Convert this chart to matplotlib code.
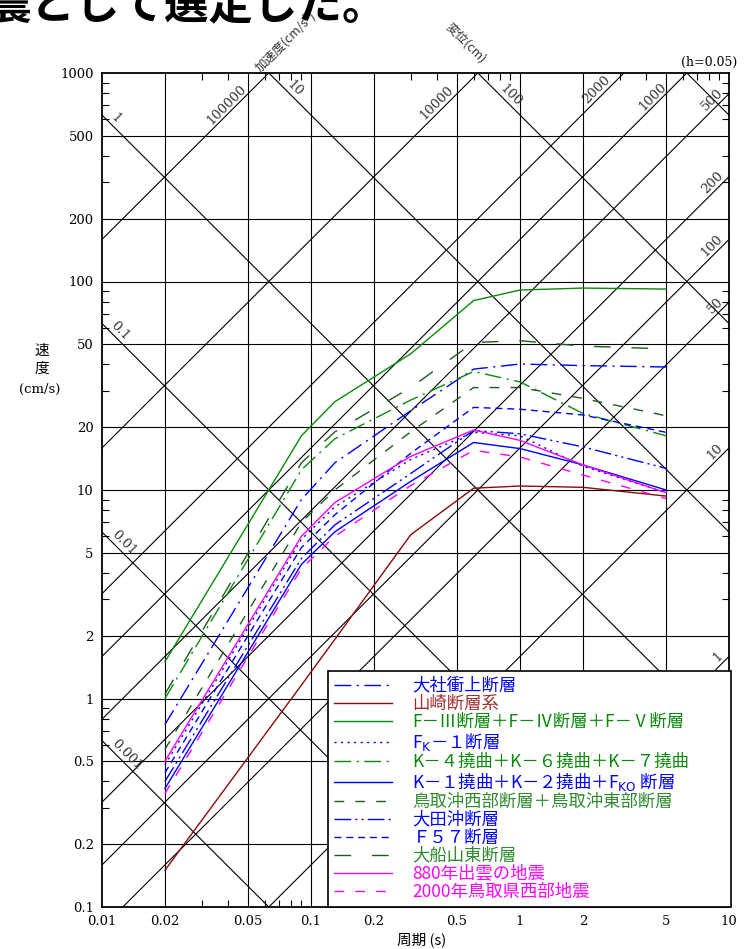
import numpy as np
import matplotlib
matplotlib.use("Agg")
import matplotlib.pyplot as plt
from matplotlib.ticker import FixedLocator, NullFormatter

plt.rcParams['font.family'] = ['DejaVu Serif', 'Noto Sans CJK JP']
plt.rcParams['mathtext.default'] = 'regular'
JP = ['Noto Sans CJK JP', 'DejaVu Sans']

W, H = 747, 949

# 周期 (s) -- Noda spectrum control points
periods = [0.02, 0.09, 0.13, 0.3, 0.6, 1.0, 2.0, 5.0]

# 速度 (cm/s)
taisha = [0.75, 9.0, 13.5, 24.0, 38.0, 40.2, 39.5, 38.9]
yamasaki = [0.15, 1.16, 1.92, 6.1, 10.2, 10.45, 10.3, 9.35]
f3f4f5 = [1.5, 18.2, 26.5, 45.0, 81.0, 91.0, 93.0, 92.0]
fk1 = [0.48, 5.8, 8.3, 14.0, 18.9, 18.2, 13.0, 9.7]
k4k6k7 = [1.0, 12.5, 17.6, 27.0, 37.0, 33.0, 23.3, 18.2]
k1k2fko = [0.37, 4.4, 6.3, 11.0, 16.9, 15.8, 13.2, 10.0]
tottori_oki = [0.57, 7.0, 10.0, 19.0, 31.0, 31.0, 27.5, 22.7]
ota_oki = [0.40, 4.7, 6.8, 12.0, 19.3, 18.6, 16.1, 12.7]
f57 = [0.44, 5.3, 7.6, 15.0, 24.9, 24.4, 22.9, 18.9]
daisenzan = [1.05, 13.5, 19.0, 31.0, 51.0, 52.0, 49.0, 47.5]
eq880 = [0.50, 6.0, 8.7, 14.5, 19.4, 17.3, 13.2, 9.7]
eq2000 = [0.35, 4.2, 6.0, 10.5, 15.5, 14.4, 11.8, 9.1]

labels = [
    "大社衝上断層",
    "山崎断層系",
    "F－Ⅲ断層＋F－Ⅳ断層＋F－Ⅴ断層",
    "F$_\\mathrm{K}$－１断層",
    "K－４撓曲＋K－６撓曲＋K－７撓曲",
    "K－１撓曲＋K－２撓曲＋F$_\\mathrm{KO}$ 断層",
    "鳥取沖西部断層＋鳥取沖東部断層",
    "大田沖断層",
    "Ｆ５７断層",
    "大船山東断層",
    "880年出雲の地震",
    "2000年鳥取県西部地震",
]
series = [taisha, yamasaki, f3f4f5, fk1, k4k6k7, k1k2fko, tottori_oki,
          ota_oki, f57, daisenzan, eq880, eq2000]

BLUE = '#0000ff'
GREEN = '#0a8a0a'
DGREEN = '#1d5c1d'
RED = '#8b0a0a'
MAG = '#ff00ff'
colors = [BLUE, RED, GREEN, BLUE, GREEN, BLUE, DGREEN, BLUE, BLUE, DGREEN, MAG, MAG]
text_colors = [BLUE, '#a03030', GREEN, BLUE, GREEN, BLUE, '#2e8b2e', BLUE, BLUE,
               '#2e8b2e', MAG, MAG]
dashes = [(12, 4, 1.5, 4), None, None, (1.5, 3.2), (12, 4, 1.5, 4), None,
          (7, 8), (12, 3, 1.5, 3, 1.5, 3), (5, 3.5), (12, 15), None, (7, 8)]

# tripartite levels (h=0.05)
disp_levels = [0.001, 0.01, 0.1, 1, 10, 100, 1000]
acc_levels = [1, 10, 50, 100, 200, 500, 1000, 2000, 10000, 100000]

fig = plt.figure(figsize=(W / 100, H / 100), dpi=100)
ax = fig.add_axes([102 / W, 1 - 907 / H, 627 / W, 834 / H])
ax.set_xscale('log')
ax.set_yscale('log')
ax.set_xlim(0.01, 10)
ax.set_ylim(0.1, 1000)

for x in [0.02, 0.05, 0.1, 0.2, 0.5, 1, 2, 5]:
    ax.axvline(x, color='black', lw=0.8, zorder=1)
for y in [0.2, 0.5, 1, 2, 5, 10, 20, 50, 100, 200, 500]:
    ax.axhline(y, color='black', lw=0.8, zorder=1)

T = np.logspace(-2.5, 1.5, 60)
for sd in disp_levels:
    ax.plot(T, 2 * np.pi * sd / T, color='black', lw=0.8, zorder=1)
for sa in acc_levels:
    ax.plot(T, sa * T / (2 * np.pi), color='black', lw=0.8, zorder=1)

# labels on the diagonal lines
disp_lab = {1: 0.0106, 0.1: 0.0106, 0.01: 0.0107, 0.001: 0.0107, 10: 0.074, 100: 0.77}
for sd, tp in disp_lab.items():
    ax.annotate(f"{sd:g}", xy=(tp, 2 * np.pi * sd / tp), xytext=(0.5, 0.5),
                textcoords='offset points', rotation=-45, rotation_mode='anchor',
                ha='left', va='bottom', fontsize=9.5, color='#333333')
acc_lab = {100000: 0.051, 10000: 0.50, 2000: 2.8, 1000: 5.2,
           500: 9.7, 200: 9.7, 100: 9.7, 50: 9.7, 10: 9.7, 1: 9.7}
for sa, tp in acc_lab.items():
    ax.annotate(f"{sa:g}", xy=(tp, sa * tp / (2 * np.pi)), xytext=(-0.5, 0.5),
                textcoords='offset points', rotation=45, rotation_mode='anchor',
                ha='right', va='bottom', fontsize=9.5, color='#333333')

for vals, lab, c, d in zip(series, labels, colors, dashes):
    line, = ax.plot(periods, vals, color=c, lw=1.0, label=lab, zorder=3)
    if d is not None:
        line.set_dashes(d)

xt = [0.01, 0.02, 0.05, 0.1, 0.2, 0.5, 1, 2, 5, 10]
yt = [0.1, 0.2, 0.5, 1, 2, 5, 10, 20, 50, 100, 200, 500, 1000]
ax.set_xticks(xt)
ax.set_xticklabels([f"{v:g}" for v in xt], fontsize=9.5)
ax.set_yticks(yt)
ax.set_yticklabels([f"{v:g}" for v in yt], fontsize=9.5)
minor_x = [m * 10.0 ** e for e in range(-2, 1) for m in range(2, 10)]
minor_y = [m * 10.0 ** e for e in range(-1, 3) for m in range(2, 10)]
ax.xaxis.set_minor_locator(FixedLocator(minor_x))
ax.yaxis.set_minor_locator(FixedLocator(minor_y))
ax.xaxis.set_minor_formatter(NullFormatter())
ax.yaxis.set_minor_formatter(NullFormatter())
ax.tick_params(which='major', length=0, pad=6)
ax.tick_params(which='minor', direction='in', length=5, width=0.8,
               top=True, right=True, left=True, bottom=True)
for s in ax.spines.values():
    s.set_linewidth(1.3)

leg = ax.legend(loc='lower left', bbox_to_anchor=(0.3604, 0.0, 0.643, 0.3),
                mode='expand', borderaxespad=0, prop={'family': JP, 'size': 12.5},
                handlelength=3.3, handletextpad=1.2, labelspacing=0.0,
                borderpad=0.36, fancybox=False, framealpha=1, edgecolor='black')
leg.get_frame().set_linewidth(1.2)
leg.set_zorder(5)
for t, c in zip(leg.get_texts(), text_colors):
    t.set_color(c)

fig.text(709 / W, 1 - 62 / H, "(h=0.05)", fontsize=9, ha='center', va='center')
fig.text(285 / W, 1 - 41 / H, "加速度(cm/s²)", family=JP, fontsize=9,
         rotation=45, ha='center', va='center', color='#333333')
fig.text(466 / W, 1 - 43 / H, "変位(cm)", family=JP, fontsize=9,
         rotation=-45, ha='center', va='center', color='#333333')
fig.text(42 / W, 1 - 351 / H, "速", family=JP, fontsize=10.5, ha='center', va='center')
fig.text(42 / W, 1 - 369 / H, "度", family=JP, fontsize=10.5, ha='center', va='center')
fig.text(40 / W, 1 - 389 / H, "(cm/s)", fontsize=9.5, ha='center', va='center')
fig.text(422 / W, 1 - 940 / H, "周期 (s)", family=JP, fontsize=10.5, ha='center', va='center')
fig.text(-14 / W, 1 - 6 / H, "震として選定した。", family=JP, fontsize=32,
         weight='bold', ha='left', va='center')

fig.savefig("out.png", dpi=100)
